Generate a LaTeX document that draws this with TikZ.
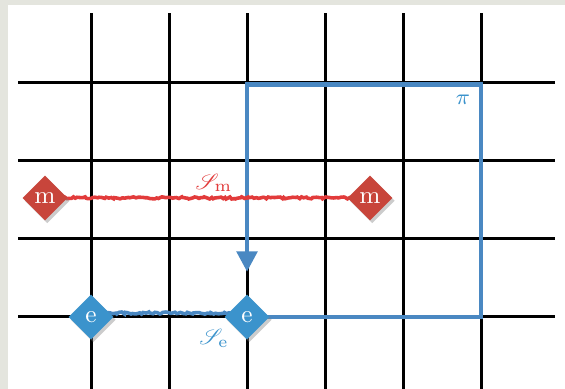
\documentclass[tikz,border=0pt]{standalone}
\usepackage{mathrsfs}
\usetikzlibrary{shapes.geometric,shadows,arrows.meta,decorations.pathmorphing}
\definecolor{bgray}{HTML}{E4E5DE}
\definecolor{mred}{HTML}{C8453B}
\definecolor{wred}{HTML}{E23B3B}
\definecolor{eblue}{HTML}{3B93CC}
\definecolor{pblue}{HTML}{4A88C2}
\tikzset{
	particle/.style={diamond, aspect=1, minimum size=0.58cm, inner sep=0pt, text=white, font=\small, drop shadow={opacity=0.4, shadow xshift=0.8pt, shadow yshift=-1pt}},
	string/.style={line width=1.3pt, decorate, decoration={random steps, segment length=0.8pt, amplitude=0.4pt}},
}
\begin{document}
\begin{tikzpicture}[x=1cm, y=1cm]
		\useasboundingbox (-1.167, -0.923) rectangle (6.077, 4.064);
		\fill[bgray] (-1.167, -0.923) rectangle (6.077, 4.064);
		\fill[white] (-1.064, -0.923) rectangle (6.077, 4.0);
		\foreach \x in {0, 1, 2, 3, 4, 5} {
			\draw[line width=1.1pt] (\x, -0.923) -- (\x, 3.9);
		}
		\foreach \y in {0, 1, 2, 3} {
			\draw[line width=1.1pt] (-0.936, \y) -- (5.95, \y);
		}
		
		\coordinate (pa) at (5, 0);
		\coordinate (pb) at (5, 2.98);
		\coordinate (pc) at (2, 2.98);
		\coordinate (pd) at (2, 0.58);
		\draw[pblue, line width=1.6pt, -{Triangle[length=0.26cm, width=0.26cm]}] (2, 0) -- (pa) -- (pb) -- (pc) -- (pd);
		
		\draw[wred, string] (-0.59, 1.526) -- (3.577, 1.526);
		\draw[pblue, string] (0, 0.05) -- (2, 0.05);
		
		\node[particle, fill=mred] (m1) at (-0.59, 1.526) {m};
		\node[particle, fill=mred] (m2) at (3.577, 1.526) {m};
		\node[particle, fill=eblue] (e1) at (0, 0) {e};
		\node[particle, fill=eblue] (e2) at (2, 0) {e};
		
		\node[text=wred, font=\footnotesize] (sm) at (1.577, 1.72) {$\mathscr{S}_{\mathrm{m}}$};
		\node[text=eblue, font=\footnotesize] (se) at (1.577, -0.27) {$\mathscr{S}_{\mathrm{e}}$};
		\node[text=eblue, font=\footnotesize] (pi) at (4.77, 2.78) {$\pi$};
	\end{tikzpicture}
\end{document}
